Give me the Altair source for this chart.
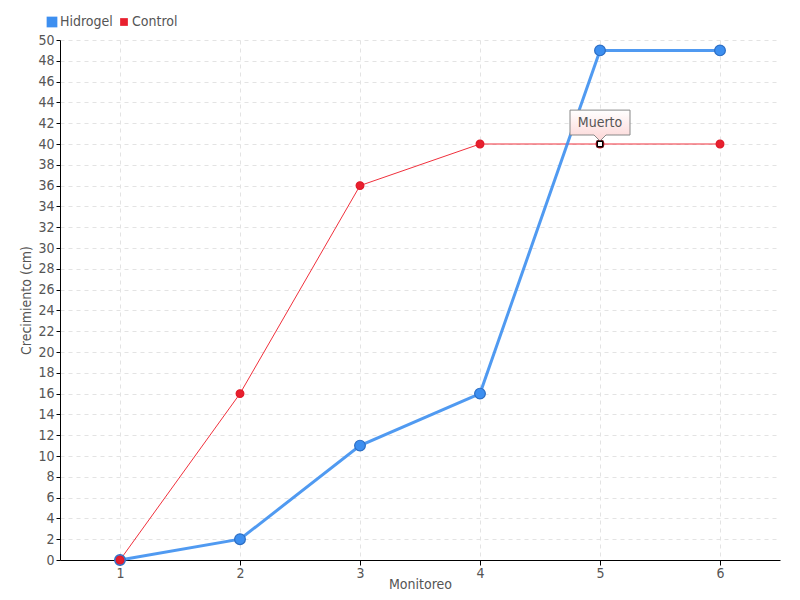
import altair as alt
import pandas as pd

monitoreo = [1, 2, 3, 4, 5, 6]
hidrogel = [0, 2, 11, 16, 49, 49]
control = [0, 16, 36, 40, 40, 40]
series = ["Hidrogel", "Control"]
y_ticks = list(range(0, 51, 2))
note_x = [5]
note_y = [40]
note_text = ["Muerto"]

BLUE = "#3d8ff0"
RED = "#e8202e"
FONT = "DejaVu Sans Condensed"
TXT = "#555555"

rows = []
for m, v in zip(monitoreo, hidrogel):
    rows.append({"Monitoreo": m, "Crecimiento": v, "Serie": "Hidrogel"})
for m, v in zip(monitoreo, control):
    rows.append({"Monitoreo": m, "Crecimiento": v, "Serie": "Control"})
df = pd.DataFrame(rows)
note = pd.DataFrame({"Monitoreo": note_x, "Crecimiento": note_y, "t": note_text})

xs = alt.X("Monitoreo:Q", scale=alt.Scale(domain=[0.5, 6.5], nice=False, zero=False),
           axis=alt.Axis(values=monitoreo, format="d", title="Monitoreo", grid=True,
                         gridDash=[4, 4], gridColor="#e3e3e3", domainColor="#000",
                         tickColor="#000", tickSize=5, labelFont=FONT, labelFontSize=14,
                         labelColor=TXT, titleFont=FONT, titleFontSize=14, titleColor=TXT,
                         titleFontWeight="normal", titlePadding=-3, labelPadding=1,
                         labelOverlap=False))
ys = alt.Y("Crecimiento:Q", scale=alt.Scale(domain=[0, 50], nice=False, zero=True),
           axis=alt.Axis(values=y_ticks, title="Crecimiento (cm)", grid=True,
                         gridDash=[4, 4], gridColor="#e3e3e3", domainColor="#000",
                         tickColor="#000", tickSize=4, labelFont=FONT, labelFontSize=14,
                         labelColor=TXT, titleFont=FONT, titleFontSize=14, titleColor=TXT,
                         titleFontWeight="normal", titlePadding=4, labelPadding=2,
                         labelOverlap=False, tickCount=26))

base = alt.Chart(df)
red_line = base.transform_filter(alt.datum.Serie == "Control").mark_line(
    color="#f0303c", strokeWidth=1).encode(x=xs, y=ys)
blue_line = base.transform_filter(alt.datum.Serie == "Hidrogel").mark_line(
    color=BLUE, strokeWidth=3, opacity=0.9).encode(x=xs, y=ys)
points = base.mark_point(filled=True, shape="circle", opacity=1, strokeWidth=1.2).encode(
    x=xs, y=ys,
    color=alt.Color("Serie:N", scale=alt.Scale(domain=series, range=[BLUE, RED]),
                    legend=alt.Legend(title=None, orient="none", legendX=-15, legendY=-25,
                                      direction="horizontal", symbolType="square",
                                      symbolSize=20, labelFont=FONT, labelFontSize=14,
                                      labelColor=TXT, columnPadding=4, labelOffset=1,
                                      symbolStrokeWidth=0)),
    size=alt.Size("Serie:N", scale=alt.Scale(domain=series, range=[115, 60]), legend=None),
    stroke=alt.Stroke("Serie:N", scale=alt.Scale(domain=series, range=["#2c6ec4", "#e01828"]),
                      legend=None),
    order=alt.Order("Serie:N", sort="descending"),
)

callout_path = "M-1,-1.13 L1,-1.13 L1,-0.3 L0.2,-0.3 L0,-0.1 L-0.2,-0.3 L-1,-0.3 Z"
nb = alt.Chart(note)
callout = nb.mark_point(shape=callout_path, size=3600, filled=True,
                        fill={"gradient": "linear", "x1": 0, "y1": 0, "x2": 0, "y2": 1,
                              "stops": [{"offset": 0, "color": "#ffffff"},
                                        {"offset": 1, "color": "#fcd6d6"}]},
                        stroke="#888888", strokeWidth=1, opacity=1).encode(x=xs, y=ys)
mark_sq = nb.mark_point(shape="square", size=30, filled=True, fill="#ffffff",
                        stroke="#000000", strokeWidth=1.5, opacity=1).encode(x=xs, y=ys)
label = nb.mark_text(dy=-21, font=FONT, fontSize=14, color=TXT).encode(
    x=xs, y=ys, text="t:N")

chart = alt.layer(red_line, blue_line, points, callout, mark_sq, label).properties(
    width=720, height=520,
    autosize=alt.AutoSizeParams(type="none"),
    padding={"left": 52, "top": 32, "right": 12, "bottom": 32},
    background="#ffffff",
).configure_view(stroke=None)

chart.save("out.html", embed_options={"renderer": "svg", "actions": False})
